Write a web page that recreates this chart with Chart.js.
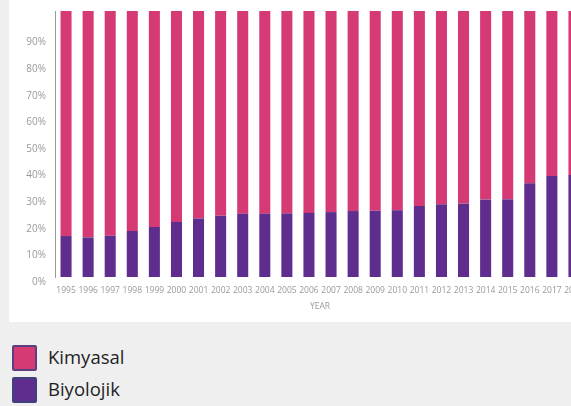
<!DOCTYPE html>
<html>
<head>
<meta charset="utf-8">
<script src="https://cdn.jsdelivr.net/npm/chart.js@4"></script>
<style>
  html, body { margin: 0; padding: 0; width: 571px; height: 406px; overflow: hidden; background: #efefef; font-family: "Open Sans", sans-serif; }
  #card { position: absolute; left: 9px; top: 0; width: 620px; height: 322px; background: #fff; overflow: hidden; }
  #chart { position: absolute; left: 0; top: 0; }
  .item { position: absolute; left: 12px; height: 26px; }
  .box { position: absolute; left: 0; top: 0; width: 21px; height: 22px; border: 2px solid; border-radius: 2px; }
  .label { position: absolute; left: 36px; top: -1px; font-size: 18.5px; line-height: 26px; color: #1e1e1e; white-space: nowrap; }
</style>
</head>
<body>
<div id="card"><canvas id="chart" width="576" height="322"></canvas></div>
<div id="legend"></div>
<script>
const years = ['1995', '1996', '1997', '1998', '1999', '2000', '2001', '2002', '2003', '2004', '2005', '2006',
    '2007', '2008', '2009', '2010', '2011', '2012', '2013', '2014', '2015', '2016', '2017', '2018']
const biyolojik = [15.4, 14.9, 15.5, 17.3, 18.8, 20.7, 22.0, 23.0, 23.8, 23.8, 23.9, 24.1,
    24.4, 24.8, 24.9, 25.1, 26.7, 27.3, 27.6, 29.1, 29.2, 35.2, 38.0, 38.3]
const kimyasal = [84.6, 85.1, 84.5, 82.7, 81.2, 79.3, 78.0, 77.0, 76.2, 76.2, 76.1, 75.9,
    75.6, 75.2, 75.1, 74.9, 73.3, 72.7, 72.4, 70.9, 70.8, 64.8, 62.0, 61.7]
const yTicks = [0, 10, 20, 30, 40, 50, 60, 70, 80, 90]

const pink = '#d63a75'
const purple = '#5e2d8d'
const tickColor = '#999'

const series = [
    { label: 'Biyolojik', data: biyolojik, color: purple, border: '#40407e' },
    { label: 'Kimyasal', data: kimyasal, color: pink, border: '#5a3f80' },
]

new Chart(document.getElementById('chart'), {
    type: 'bar',
    data: {
        labels: years,
        datasets: series.map(s => ({
            label: s.label,
            data: s.data,
            backgroundColor: s.color,
            barPercentage: 0.5,
            categoryPercentage: 1.0,
        }))
    },
    options: {
        responsive: false,
        animation: false,
        layout: { padding: { top: 11, left: 0, right: 0, bottom: 0 } },
        plugins: {
            legend: { display: false },
            tooltip: { enabled: false },
        },
        scales: {
            x: {
                stacked: true,
                grid: { display: false },
                border: { display: false },
                ticks: {
                    color: tickColor,
                    padding: 0,
                    maxRotation: 0,
                    autoSkip: false,
                    font: { family: 'Open Sans', size: 8.5 },
                },
                title: {
                    display: true,
                    text: 'YEAR',
                    color: tickColor,
                    padding: { top: 0, bottom: 10 },
                    font: { family: 'Open Sans', size: 8.5 },
                },
                afterFit: (scale) => { scale.height = 45 },
            },
            y: {
                stacked: true,
                min: 0,
                max: 100,
                grid: { display: false },
                border: { display: true, color: '#9a9a9a', width: 1 },
                afterBuildTicks: (scale) => {
                    scale.ticks = yTicks.map(v => ({ value: v }))
                },
                ticks: {
                    color: tickColor,
                    padding: 1,
                    labelOffset: 5,
                    font: { family: 'Open Sans', size: 10 },
                    callback: (v) => v + '%',
                },
                afterFit: (scale) => { scale.width = 46 },
            }
        }
    }
})

// legend below the card, top entry first
const legend = document.getElementById('legend')
const legendTops = [345, 377]
series.slice().reverse().forEach((s, i) => {
    const item = document.createElement('div')
    item.className = 'item'
    item.style.top = legendTops[i] + 'px'
    item.innerHTML = '<div class="box" style="background:' + s.color + ';border-color:' + s.border +
        '"></div><div class="label">' + s.label + '</div>'
    legend.appendChild(item)
})
</script>
</body>
</html>
